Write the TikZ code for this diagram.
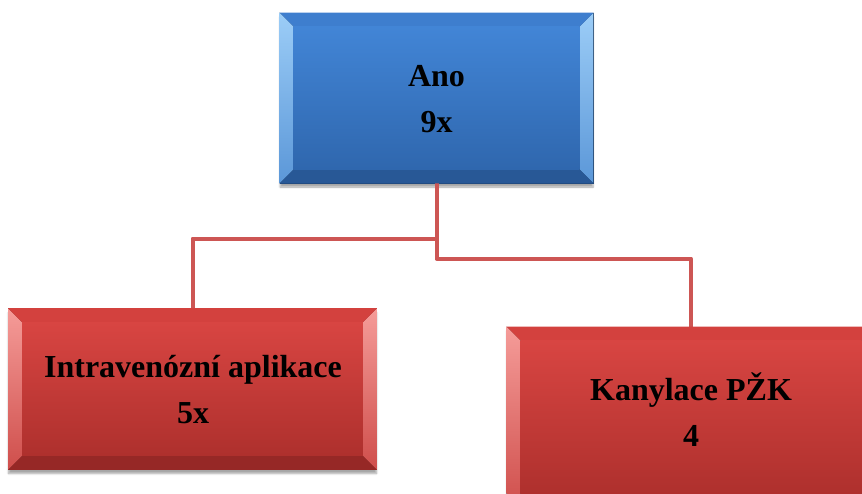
\documentclass[tikz,border=0pt]{standalone}
\usepackage{fontspec}
\setmainfont{Liberation Serif}
\usetikzlibrary{shadows.blur}
\definecolor{bfaceT}{HTML}{4285D6}
\definecolor{bfaceB}{HTML}{2F67AE}
\definecolor{blite}{HTML}{9CCDF7}
\definecolor{blite2}{HTML}{5B97D8}
\definecolor{btop}{HTML}{3E7ECE}
\definecolor{bbot}{HTML}{285896}
\definecolor{rfaceT}{HTML}{D84542}
\definecolor{rfaceB}{HTML}{AE302D}
\definecolor{rlite}{HTML}{F59C99}
\definecolor{rlite2}{HTML}{CF4E4B}
\definecolor{rtop}{HTML}{D3413E}
\definecolor{rbot}{HTML}{962826}
\definecolor{conncol}{HTML}{CD5654}
\tikzset{
  boxbase/.style={rectangle, inner sep=0pt,
    blur shadow={shadow xshift=0pt, shadow yshift=-4pt, shadow blur steps=6, shadow opacity=35}},
  bluebox/.style={boxbase, top color=bfaceT, bottom color=bfaceB, draw=bbot!80!black, line width=0.6pt},
  redbox/.style={boxbase, top color=rfaceT, bottom color=rfaceB, draw=rbot!80!black, line width=0.6pt},
  labeltext/.style={inner sep=0pt, align=center, text=black, font=\fontsize{32}{46}\selectfont\bfseries},
  conn/.style={draw=conncol, line width=4pt, line join=round}
}
\newcommand{\mybevel}[6]{% name, lite, lite2, top, bottom, width
  \fill[top color=#2, bottom color=#3] (#1.north west) -- (#1.south west) -- ([xshift=#6,yshift=#6]#1.south west) -- ([xshift=#6,yshift=-#6]#1.north west) -- cycle;
  \fill[top color=#2, bottom color=#3] (#1.north east) -- (#1.south east) -- ([xshift=-#6,yshift=#6]#1.south east) -- ([xshift=-#6,yshift=-#6]#1.north east) -- cycle;
  \fill[#4] (#1.north west) -- (#1.north east) -- ([xshift=-#6,yshift=-#6]#1.north east) -- ([xshift=#6,yshift=-#6]#1.north west) -- cycle;
  \fill[#5] (#1.south west) -- (#1.south east) -- ([xshift=-#6,yshift=#6]#1.south east) -- ([xshift=#6,yshift=#6]#1.south west) -- cycle;
}
\begin{document}
\begin{tikzpicture}[x=1pt,y=-1pt]
\useasboundingbox (0,0) rectangle (862,493);
\clip (0,0) rectangle (862,493);
\node[bluebox, minimum width=313pt, minimum height=170pt] (ano) at (436.5,98) {};
\node[redbox, minimum width=368pt, minimum height=161pt] (iv) at (192.5,389) {};
\node[redbox, minimum width=368pt, minimum height=182pt] (kan) at (691,418) {};
\draw[conn] (ano.south) -- (ano.south |- 0,238.5) -| (iv.north);
\draw[conn] (ano.south) -- (ano.south |- 0,258.5) -| (kan.north);
\mybevel{ano}{blite}{blite2}{btop}{bbot}{14pt}
\mybevel{iv}{rlite}{rlite2}{rtop}{rbot}{14pt}
\mybevel{kan}{rlite}{rlite2}{rtop}{rbot}{14pt}
\fill[top color=bfaceT, bottom color=bfaceB] ([xshift=14pt,yshift=-14pt]ano.north west) rectangle ([xshift=-14pt,yshift=14pt]ano.south east);
\fill[top color=rfaceT, bottom color=rfaceB] ([xshift=14pt,yshift=-14pt]iv.north west) rectangle ([xshift=-14pt,yshift=14pt]iv.south east);
\fill[top color=rfaceT, bottom color=rfaceB] ([xshift=14pt,yshift=-14pt]kan.north west) rectangle ([xshift=-14pt,yshift=14pt]kan.south east);
\node[labeltext] (anotext) at (436.5,99) {Ano\\9x};
\node[labeltext] (ivtext) at (193,389.5) {Intravenózní aplikace\\5x};
\node[labeltext] (kantext) at (691,410) {Kanylace PŽK\\4};
\end{tikzpicture}
\end{document}
